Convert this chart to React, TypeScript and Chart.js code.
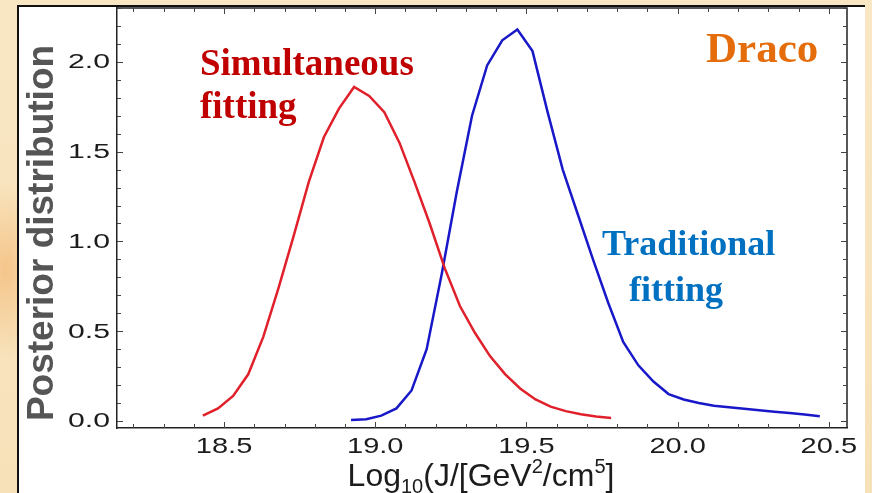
import React, { useEffect, useRef } from "react";
import { Chart, registerables } from "chart.js";

Chart.register(...registerables);

// ---- Data ----
const simX = [18.43, 18.48, 18.53, 18.58, 18.63, 18.68, 18.73, 18.78, 18.83, 18.88, 18.93, 18.98, 19.03, 19.08, 19.13, 19.18, 19.23, 19.28, 19.33, 19.38, 19.43, 19.48, 19.53, 19.58, 19.63, 19.68, 19.73, 19.78];
const simY = [0.03, 0.07, 0.14, 0.26, 0.47, 0.74, 1.03, 1.33, 1.58, 1.74, 1.86, 1.81, 1.72, 1.55, 1.33, 1.1, 0.85, 0.64, 0.49, 0.36, 0.26, 0.18, 0.12, 0.08, 0.055, 0.038, 0.025, 0.017];

const tradX = [18.92, 18.97, 19.02, 19.07, 19.12, 19.17, 19.22, 19.27, 19.32, 19.37, 19.42, 19.47, 19.52, 19.57, 19.62, 19.67, 19.72, 19.77, 19.82, 19.87, 19.92, 19.97, 20.02, 20.07, 20.12, 20.17, 20.22, 20.27, 20.32, 20.37, 20.42, 20.47];
const tradY = [0.005, 0.01, 0.03, 0.07, 0.17, 0.4, 0.82, 1.28, 1.7, 1.98, 2.12, 2.18, 2.06, 1.72, 1.4, 1.15, 0.9, 0.66, 0.44, 0.31, 0.22, 0.15, 0.12, 0.1, 0.085, 0.076, 0.068, 0.06, 0.052, 0.045, 0.036, 0.026];

const xTickLabels = ["18.5", "19.0", "19.5", "20.0", "20.5"];
const yTickLabels = ["0.0", "0.5", "1.0", "1.5", "2.0"];

const X_MIN = 18.146;
const X_MAX = 20.56;
const Y_MIN = -0.039;
const Y_MAX = 2.3;

const yTitle = "Posterior distribution";
const simLabel = ["Simultaneous", "fitting"];
const tradLabel = ["Traditional", "fitting"];
const galaxy = "Draco";

const SANS = "'Liberation Sans', Arial, sans-serif";
const SERIF = "'Liberation Serif', 'Times New Roman', serif";

function stretchedText(ctx: CanvasRenderingContext2D, text: string, x: number, y: number, sx: number) {
  ctx.save();
  ctx.translate(x, y);
  ctx.scale(sx, 1);
  ctx.fillText(text, 0, 0);
  ctx.restore();
}

const decorPlugin = {
  id: "decor",
  afterDraw(chart: any) {
    const ctx: CanvasRenderingContext2D = chart.ctx;
    const { left, right, top, bottom } = chart.chartArea;
    const xs = chart.scales.x;
    const ys = chart.scales.y;
    ctx.save();

    // top and right frame
    ctx.strokeStyle = "#222";
    ctx.lineWidth = 1.5;
    ctx.beginPath();
    ctx.moveTo(left, top);
    ctx.lineTo(right, top);
    ctx.lineTo(right, bottom);
    ctx.stroke();

    // inward ticks
    ctx.strokeStyle = "#444";
    ctx.lineWidth = 1;
    ctx.beginPath();
    for (let k = Math.ceil(X_MIN * 10); k <= Math.floor(X_MAX * 10); k++) {
      const px = Math.round(xs.getPixelForValue(k / 10)) + 0.5;
      const len = k % 5 === 0 ? 6 : 4;
      ctx.moveTo(px, bottom);
      ctx.lineTo(px, bottom - len);
      ctx.moveTo(px, top);
      ctx.lineTo(px, top + len);
    }
    for (let k = Math.ceil(Y_MIN * 10); k <= Math.floor(Y_MAX * 10); k++) {
      const py = Math.round(ys.getPixelForValue(k / 10)) + 0.5;
      const len = k % 5 === 0 ? 6 : 4;
      ctx.moveTo(left, py);
      ctx.lineTo(left + len, py);
      ctx.moveTo(right, py);
      ctx.lineTo(right - len, py);
    }
    ctx.stroke();

    // tick labels
    ctx.fillStyle = "#1c1c1c";
    ctx.font = `22px ${SANS}`;
    ctx.textAlign = "center";
    ctx.textBaseline = "alphabetic";
    xTickLabels.forEach((t) => {
      stretchedText(ctx, t, xs.getPixelForValue(parseFloat(t)), 453, 1.32);
    });
    ctx.font = `19.5px ${SANS}`;
    ctx.textAlign = "right";
    ctx.textBaseline = "middle";
    yTickLabels.forEach((t) => {
      stretchedText(ctx, t, left - 7, ys.getPixelForValue(parseFloat(t)) + 1, 1.55);
    });

    // y title
    ctx.save();
    ctx.translate(53, 233);
    ctx.rotate(-Math.PI / 2);
    ctx.font = `bold 37px ${SANS}`;
    ctx.fillStyle = "#555";
    ctx.textAlign = "center";
    ctx.textBaseline = "alphabetic";
    ctx.fillText(yTitle, 0, 0);
    ctx.restore();

    // x title: Log10(J/[GeV2/cm5]
    const main = 32;
    const small = 20;
    const segs: [string, string][] = [
      ["Log", "n"], ["10", "sub"], ["(J/[GeV", "n"], ["2", "sup"], ["/cm", "n"], ["5", "sup"], ["]", "n"],
    ];
    let total = 0;
    segs.forEach(([t, k]) => {
      ctx.font = `${k === "n" ? main : small}px ${SANS}`;
      total += ctx.measureText(t).width;
    });
    let cx = 481 - total / 2;
    const base = 486;
    ctx.fillStyle = "#1c1c1c";
    ctx.textAlign = "left";
    ctx.textBaseline = "alphabetic";
    segs.forEach(([t, k]) => {
      ctx.font = `${k === "n" ? main : small}px ${SANS}`;
      const dy = k === "sub" ? 7 : k === "sup" ? -13 : 0;
      ctx.fillText(t, cx, base + dy);
      cx += ctx.measureText(t).width;
    });

    // annotations
    ctx.textAlign = "left";
    ctx.font = `bold 37px ${SERIF}`;
    ctx.fillStyle = "#C00000";
    ctx.fillText(simLabel[0], 200, 75);
    ctx.fillText(simLabel[1], 200, 118);

    ctx.font = `bold 36px ${SERIF}`;
    ctx.fillStyle = "#0070C0";
    ctx.fillText(tradLabel[0], 602, 255);
    ctx.fillText(tradLabel[1], 629, 301);

    ctx.font = `bold 43px ${SERIF}`;
    ctx.fillStyle = "#E46C0A";
    ctx.fillText(galaxy, 706, 62);

    ctx.restore();
  },
};

export default function App() {
  const ref = useRef<HTMLCanvasElement>(null);
  useEffect(() => {
    if (!ref.current) return;
    const chart = new Chart(ref.current, {
      type: "line",
      data: {
        datasets: [
          {
            label: "Simultaneous fitting",
            data: simX.map((x, i) => ({ x, y: simY[i] })),
            borderColor: "#E0202A",
            borderWidth: 2.5,
            pointRadius: 0,
            tension: 0,
            fill: false,
          },
          {
            label: "Traditional fitting",
            data: tradX.map((x, i) => ({ x, y: tradY[i] })),
            borderColor: "#1818C8",
            borderWidth: 2.5,
            pointRadius: 0,
            tension: 0,
            fill: false,
          },
        ],
      },
      options: {
        animation: false,
        responsive: false,
        layout: { padding: { left: 117, right: 25, top: 8, bottom: 65 } },
        plugins: { legend: { display: false }, tooltip: { enabled: false } },
        scales: {
          x: {
            type: "linear",
            min: X_MIN,
            max: X_MAX,
            ticks: { display: false },
            grid: { display: false, drawTicks: false },
            border: { display: true, color: "#222", width: 1.5 },
          },
          y: {
            type: "linear",
            min: Y_MIN,
            max: Y_MAX,
            ticks: { display: false },
            grid: { display: false, drawTicks: false },
            border: { display: true, color: "#222", width: 1.5 },
          },
        },
      },
      plugins: [decorPlugin],
    });
    return () => chart.destroy();
  }, []);

  return (
    <div
      style={{
        position: "fixed",
        left: 0,
        top: 0,
        width: 872,
        height: 493,
        overflow: "hidden",
        background:
          "radial-gradient(ellipse 40px 90px at 6px 270px, #F5C58A 0%, rgba(248,226,188,0) 100%), linear-gradient(180deg, #F9E7C4 0%, #F7E1B9 100%)",
      }}
    >
      <div
        style={{
          position: "absolute",
          left: 17,
          top: 5,
          width: 846,
          height: 500,
          background: "#fff",
          borderTop: "2px solid #111",
          borderLeft: "2px solid #111",
        }}
      />
      <canvas
        ref={ref}
        width={872}
        height={493}
        style={{ position: "absolute", left: 0, top: 0, width: 872, height: 493 }}
      />
    </div>
  );
}
